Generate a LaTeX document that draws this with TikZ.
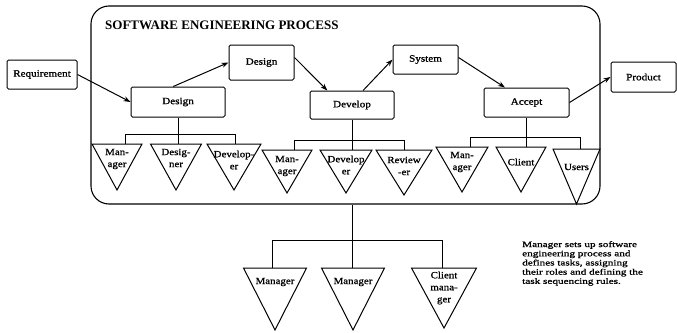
\documentclass[tikz,border=0pt]{standalone}
\usepackage{fontspec}
\setmainfont[FakeStretch=1.15,FakeBold=1.1]{Liberation Serif}
\newfontfamily\headfont{Liberation Serif}
\newfontfamily\notefont[FakeStretch=1.35,FakeBold=1.1]{Liberation Serif}
\usetikzlibrary{arrows.meta,calc}

\tikzset{
  line/.style={line width=1pt},
  stage/.style={draw, line width=1pt, rounded corners=1.5pt, inner sep=0pt,
    font=\fontsize{9.7}{11}\selectfont},
  flow/.style={line width=1pt, -{Stealth[length=7pt,width=5pt]}},
  tri/.style={line width=1pt, line join=miter},
  role/.style={align=center, inner sep=0pt, font=\fontsize{9.5}{12}\selectfont},
}

% inverted role triangle: name, centre x, top y, half width, apex y, label y, label
\newcommand{\roletri}[7]{%
  \draw[tri] (#2-#4,#3) -- (#2+#4,#3) -- (#2,#5) -- cycle;
  \node[role] (#1) at (#2,#6) {#7};
}

\begin{document}
\begin{tikzpicture}[x=1pt,y=-1pt]
\useasboundingbox (0,0) rectangle (677,332);

% process frame
\node[draw, line width=1.1pt, rounded corners=18pt, minimum width=509pt,
      minimum height=198pt, inner sep=0pt] (proc) at (345.5,105) {};
\node[anchor=west, inner sep=0pt, font=\headfont\bfseries\fontsize{13}{15}\selectfont]
  (title) at (105,25) {SOFTWARE ENGINEERING PROCESS};

% stages
\node[stage, minimum width=70pt, minimum height=29pt] (req)  at (42,74.5)    {Requirement};
\node[stage, minimum width=94pt, minimum height=30pt] (d1)   at (178,102)    {Design};
\node[stage, minimum width=65pt, minimum height=35pt] (d2)   at (261.5,62.5) {Design};
\node[stage, minimum width=84pt, minimum height=28pt] (dev)  at (352,105)    {Develop};
\node[stage, minimum width=65pt, minimum height=29pt] (sys)  at (425.5,59.5) {System};
\node[stage, minimum width=85pt, minimum height=29pt] (acc)  at (526.5,102.5){Accept};
\node[stage, minimum width=65pt, minimum height=30pt] (prod) at (643.5,77)   {Product};

% flow between stages
\draw[flow] (req.east) -- (d1.west);
\draw[flow] ($(d1.north west)!0.45!(d1.north east)$) -- (d2.west);
\draw[flow] ($(d2.east)+(0,-5)$) -- ($(dev.north west)!0.21!(dev.north east)$);
\draw[flow] ($(dev.north west)!0.63!(dev.north east)$) -- (sys.west);
\draw[flow] ($(sys.east)+(0,-2)$) -- ($(acc.north west)!0.25!(acc.north east)$);
\draw[flow] (acc.east) -- (prod.west);

% roles of the design stage
\roletri{r1}{117}{144}{25}{190}{159}{Man-\\ager}
\roletri{r2}{176}{144}{25.5}{190}{158}{Desig-\\ner}
\roletri{r3}{234}{144}{27}{190}{160}{Develop-\\er}
% roles of the develop stage
\roletri{r4}{287}{150}{25}{193}{166}{Man-\\ager}
\roletri{r5}{346}{150}{26}{193}{165}{Develop\\er}
\roletri{r6}{404}{150}{28}{195}{166}{Review\\-er}
% roles of the accept stage
\roletri{r7}{462}{147}{26}{192}{162}{Man-\\ager}
\roletri{r8}{521}{147}{25}{192}{162}{Client}
\roletri{r9}{576.5}{149}{23.5}{204}{167}{Users}
% roles of the process as a whole
\roletri{m1}{275}{268}{31.5}{330}{282}{Manager}
\roletri{m2}{353}{268}{31.5}{330}{282}{Manager}
\roletri{m3}{444}{268}{32.5}{328}{288}{Client\\mana-\\ger}

% drop points on the triangle tops and bus levels
\coordinate (busA) at (0,134);
\coordinate (busB) at (0,140);
\coordinate (busC) at (0,137);
\coordinate (busD) at (0,240);
\coordinate (a1) at (125,144);
\coordinate (a3) at (235,144);
\coordinate (b1) at (294,150);
\coordinate (b3) at (404,150);
\coordinate (c1) at (470,147);
\coordinate (c3) at (580,149);
\coordinate (e1) at (272,268);
\coordinate (e2) at (352,268);
\coordinate (e3) at (442,268);

% design group
\draw[line] (d1.south) -- (d1.south |- a1);
\draw[line] (a1) -- (a1 |- busA) -- (a3 |- busA) -- (a3);
% develop group
\draw[line] (dev.south) -- (dev.south |- b1);
\draw[line] (b1) -- (b1 |- busB) -- (b3 |- busB) -- (b3);
% accept group
\draw[line] (acc.south) -- (acc.south |- c1);
\draw[line] (c1) -- (c1 |- busC) -- (c3 |- busC) -- (c3);
% process group
\draw[line] (proc.south -| e2) -- (e2);
\draw[line] (e1) -- (e1 |- busD) -- (e3 |- busD) -- (e3);

% note
\node[anchor=north west, align=left, inner sep=0pt,
      font=\notefont\fontsize{8.3}{9.2}\selectfont] (note) at (522,241)
  {Manager sets up software\\engineering process and\\defines tasks, assigning\\their roles and defining the\\task sequencing rules.};
\end{tikzpicture}
\end{document}
